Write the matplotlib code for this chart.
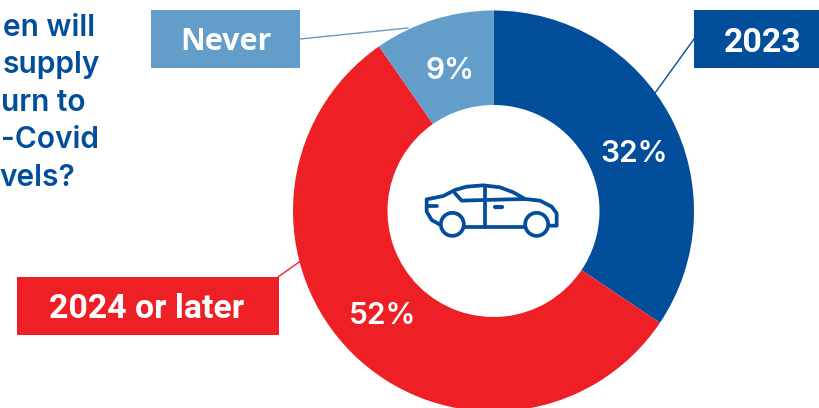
import matplotlib
matplotlib.use('Agg')
import matplotlib.pyplot as plt
from matplotlib.patches import Rectangle, Circle

# share of answers, goes clockwise from the top
labels = ['2023', '2024 or later', 'Never']
values = [32, 52, 9]
pct_text = ['32%', '52%', '9%']
colors = ['#024E9B', '#EF1F26', '#639DC9']
# the picture only shows the right part of the question
title_lines = ['en will', 'supply', 'urn to', '-Covid', 'vels?']

W, H = 820, 408
BLUE = colors[0]

fig = plt.figure(figsize=(W / 100, H / 100), dpi=100)
ax = fig.add_axes([0, 0, 1, 1])

def yy(y):
    # picture pixels count from the top
    return H - y

# thin lines from the boxes to the ring
ax.plot([300, 408], [yy(39), yy(28)], color=colors[2], lw=1, zorder=1)
ax.plot([694, 655], [yy(39), yy(93)], color=colors[0], lw=1, zorder=1)
ax.plot([278, 302], [yy(277), yy(260)], color=colors[1], lw=1, zorder=1)

cx, cy, r = 493.5, yy(211), 200.5
ax.pie(values, colors=colors, startangle=90, counterclock=False, center=(cx, cy),
       radius=r, frame=True, wedgeprops=dict(width=r - 106, linewidth=0))

ax.set_xlim(0, W)
ax.set_ylim(0, H)
ax.set_aspect('auto')
ax.axis('off')

# label boxes
boxes = [(694, 10, 126, 58), (17, 277, 262, 58), (151, 10, 149, 58)]
box_text = [(763, 39), (147, 305), (226, 39)]
box_size = [24.4, 24.4, 22]
box_font = ['Roboto', 'Roboto', 'Open Sans']
for i in range(3):
    x, y, w, h = boxes[i]
    ax.add_patch(Rectangle((x, yy(y + h)), w, h, color=colors[i], lw=0, zorder=3))
    ax.text(box_text[i][0], yy(box_text[i][1]), labels[i], color='white', fontsize=box_size[i],
            fontweight='bold', family=box_font[i],
            ha='center', va='center_baseline', zorder=4)

pct_pos = [(634, 151), (383, 313), (450, 68)]
for i in range(3):
    ax.text(pct_pos[i][0], yy(pct_pos[i][1]), pct_text[i], color='white', fontsize=21.5,
            fontweight='semibold', family='Inter', ha='center', va='center_baseline', zorder=4)

# question on the left
line_y = [36, 73, 111, 148, 186]
line_x = [95, 100, 86, 99, 75]
for i in range(5):
    ax.text(line_x[i], yy(line_y[i]), title_lines[i], color=BLUE, fontsize=21.5,
            fontweight='semibold', family='Inter', ha='right', va='baseline')

# car icon
def icon(xs, ys, lw=2.7):
    ax.plot([400 + a / 3 for a in xs], [yy(160 + b / 3) for b in ys], color=BLUE, lw=lw,
            solid_capstyle='round', solid_joinstyle='round', zorder=4)

icon([122, 95, 80, 80, 130, 165, 200, 250, 300, 340, 375, 420, 455, 470, 470, 445],
     [195, 180, 155, 118, 108, 90, 80, 76, 82, 97, 117, 122, 140, 160, 197, 197])
icon([190, 375], [200, 200])
icon([165, 185, 250, 375], [100, 122, 120, 117])
icon([255, 255], [80, 200])
icon([85, 110], [137, 137])
icon([285, 306], [140, 140], lw=3)
for wx in [157, 410]:
    ax.add_patch(Circle((400 + wx / 3, yy(160 + 193 / 3)), 11.5, fc='white', ec=BLUE, lw=2.7, zorder=5))

fig.savefig('out.png', dpi=100)
